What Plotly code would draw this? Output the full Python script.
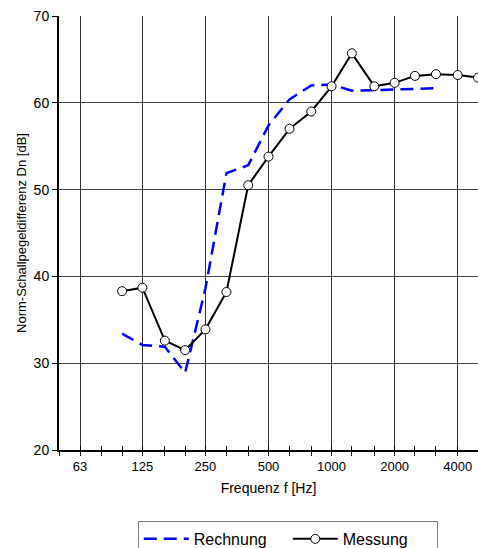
import math
import plotly.graph_objects as go

# third-octave band centres (nominal) shown on the axis
third_octaves = [50, 63, 80, 100, 125, 160, 200, 250, 315, 400, 500, 630, 800,
                 1000, 1250, 1600, 2000, 2500, 3150, 4000, 5000]
octave_ticks = [63, 125, 250, 500, 1000, 2000, 4000]
octave_labels = ["63", "125", "250", "500", "1000", "2000", "4000"]

# Rechnung (calculation)
rechnung_f = [100, 125, 160, 200, 250, 315, 400, 500, 630, 800, 1000, 1250,
              1600, 2000, 2500, 3150]
rechnung_db = [33.4, 32.1, 31.9, 28.9, 38.6, 51.9, 52.8, 57.4, 60.4, 62.0, 62.1,
               61.4, 61.45, 61.5, 61.6, 61.7]

# Messung (measurement)
messung_f = [100, 125, 160, 200, 250, 315, 400, 500, 630, 800, 1000, 1250, 1600,
             2000, 2500, 3150, 4000, 5000]
messung_db = [38.3, 38.7, 32.6, 31.5, 33.9, 38.2, 50.5, 53.8, 57.0, 59.0, 61.9,
              65.7, 61.9, 62.3, 63.1, 63.3, 63.2, 62.9]

FONT = "Liberation Sans, Arial, sans-serif"

fig = go.Figure()
fig.add_trace(go.Scatter(
    x=rechnung_f, y=rechnung_db, mode="lines", name="Rechnung",
    line=dict(color="#0000ff", width=2.5, dash="13px,7px"),
))
fig.add_trace(go.Scatter(
    x=messung_f, y=messung_db, mode="lines+markers", name="Messung",
    line=dict(color="#000000", width=2),
    marker=dict(symbol="circle", size=9, color="white",
                line=dict(color="black", width=1)),
))
# invisible helper trace on overlay axis (for crossing minor ticks)
fig.add_trace(go.Scatter(x=[third_octaves[0], third_octaves[-1]], y=[20, 20],
                         xaxis="x2", mode="lines", line=dict(width=0),
                         showlegend=False, hoverinfo="skip"))

xr = [math.log10(third_octaves[0]), math.log10(third_octaves[-1])]

fig.update_layout(
    width=478, height=548,
    margin=dict(l=59, r=0, t=16, b=98, autoexpand=False),
    paper_bgcolor="white", plot_bgcolor="white",
    font=dict(family=FONT, size=12, color="#000000"),
    showlegend=True,
    legend=dict(orientation="h", x=0.188, xanchor="left", y=-0.1635,
                yanchor="top", bordercolor="#808080", borderwidth=1,
                font=dict(size=16, family=FONT),
                itemwidth=45,
                entrywidth=89, entrywidthmode="pixels",
                traceorder="normal"),
    xaxis=dict(
        type="log", range=xr, automargin=False,
        tickmode="array", tickvals=octave_ticks, ticktext=octave_labels,
        ticks="outside", ticklen=4, tickcolor="black", tickwidth=1,
        showgrid=True, gridcolor="#333333", gridwidth=1,
        showline=True, linecolor="black", linewidth=1.5,
        zeroline=False,
        minor=dict(tickmode="array", tickvals=third_octaves, ticks="outside",
                   ticklen=4, tickcolor="black", tickwidth=1, showgrid=False),
        title=dict(text="Frequenz f [Hz]", font=dict(size=14), standoff=10),
        tickfont=dict(size=13),
    ),
    xaxis2=dict(
        type="log", range=xr, overlaying="x", anchor="y", side="bottom",
        tickmode="array", tickvals=third_octaves, ticks="inside", ticklen=4,
        tickcolor="black", tickwidth=1, showticklabels=False, showgrid=False,
        showline=False, zeroline=False, automargin=False,
    ),
    yaxis=dict(
        range=[20, 70], tickmode="linear", tick0=20, dtick=10, automargin=False,
        ticks="outside", ticklen=5, tickcolor="black", tickwidth=1,
        showgrid=True, gridcolor="#444444", gridwidth=1,
        showline=True, linecolor="black", linewidth=2,
        zeroline=False,
        title=dict(text="Norm-Schallpegeldifferenz Dn [dB]", font=dict(size=13),
                   standoff=4),
        tickfont=dict(size=14),
    ),
)

fig.write_html(
    "out.html",
    config={"displayModeBar": False},
    post_script="document.body.style.margin='0px';"
                "document.body.style.overflow='hidden';"
                "document.documentElement.style.overflow='hidden';",
)
